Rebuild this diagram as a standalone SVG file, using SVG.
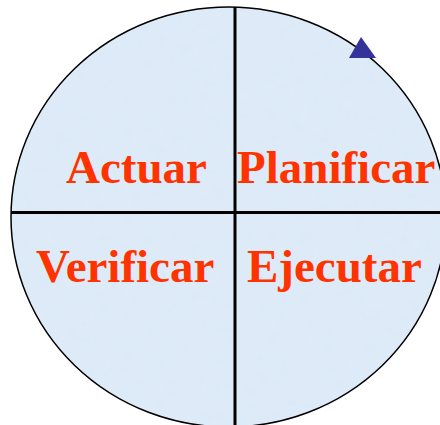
<svg xmlns="http://www.w3.org/2000/svg" width="440" height="425" viewBox="0 0 440 425">
  <defs>
    <filter id="tex" x="0" y="0" width="100%" height="100%">
      <feTurbulence type="fractalNoise" baseFrequency="0.09" numOctaves="2" seed="3" result="n"/>
      <feColorMatrix in="n" type="matrix" values="0 0 0 0 0.78  0 0 0 0 0.86  0 0 0 0 0.95  0 0 0 0.5 -0.05" result="c"/>
      <feComposite in="c" in2="SourceGraphic" operator="in" result="m"/>
      <feMerge><feMergeNode in="SourceGraphic"/><feMergeNode in="m"/></feMerge>
    </filter>
    <clipPath id="clip"><ellipse cx="228.5" cy="217" rx="217.5" ry="210"/></clipPath>
  </defs>
  <style>
    .lbl { font-family: "Liberation Serif", "Times New Roman", serif; font-weight: bold; font-size: 47px; fill: #ff3300; }
    .axis { stroke: #000; stroke-width: 3; }
  </style>
  <rect width="440" height="425" fill="#ffffff"/>
  <g id="cycle">
    <ellipse cx="228.5" cy="217" rx="217.5" ry="210" fill="#dce9f7" filter="url(#tex)"/>
    <ellipse cx="228.5" cy="217" rx="217.5" ry="210" fill="none" stroke="#000" stroke-width="1.5"/>
  </g>
  <g id="connectors" clip-path="url(#clip)">
    <line class="axis" x1="235" y1="0" x2="235" y2="425"/>
    <line class="axis" x1="0" y1="212.5" x2="440" y2="212.5"/>
  </g>
  <g id="arrow">
    <polygon points="361,37 349,58 376,58" fill="#333399"/>
  </g>
  <g id="actuar"><text class="lbl" x="66" y="183">Actuar</text></g>
  <g id="planificar"><text class="lbl" x="237" y="183">Planificar</text></g>
  <g id="verificar"><text class="lbl" x="36" y="282">Verificar</text></g>
  <g id="ejecutar"><text class="lbl" x="247" y="282">Ejecutar</text></g>
</svg>
